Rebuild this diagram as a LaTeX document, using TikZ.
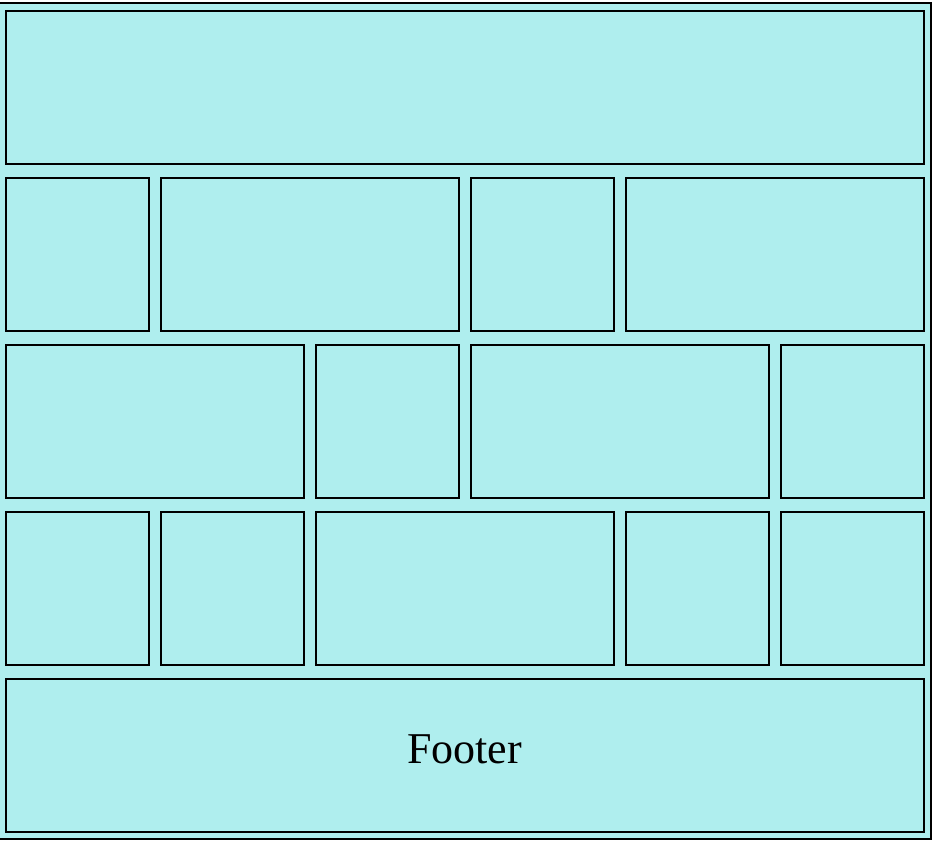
\documentclass[tikz,border=0pt]{standalone}
\usepackage{fontspec}
\setmainfont{Liberation Serif}
\definecolor{paleturq}{RGB}{175,238,238}
\newcommand\cellbox[5]{%
  \node[cell,minimum width={#4-#2},minimum height={#5-#3}] (#1) at ({(#2+#4)/2},{(#3+#5)/2}) {};}
\begin{document}
\begin{tikzpicture}[x=1pt,y=-1pt,
  cell/.style={draw=black,line width=2pt,fill=paleturq,inner sep=0pt,outer sep=0pt},
  outerbox/.style={draw=black,line width=2pt,fill=paleturq},
  lbl/.style={font=\fontsize{44}{50}\selectfont,inner sep=0pt,anchor=base}]
\useasboundingbox (0,0) rectangle (938,849);
\fill[white] (0,0) rectangle (938,849);
\draw[outerbox] (-1,3) rectangle (931,839);
% header
\cellbox{hdr}{6}{11}{923.5}{164}
% row 1
\cellbox{ra}{6}{178}{148.5}{331}
\cellbox{rb}{161}{178}{458.5}{331}
\cellbox{rc}{471}{178}{613.5}{331}
\cellbox{rd}{626}{178}{923.5}{331}
% row 2
\cellbox{sa}{6}{345}{303.5}{498}
\cellbox{sb}{316}{345}{458.5}{498}
\cellbox{sc}{471}{345}{768.5}{498}
\cellbox{sd}{781}{345}{923.5}{498}
% row 3
\cellbox{ta}{6}{511.5}{148.5}{664.5}
\cellbox{tb}{161}{511.5}{303.5}{664.5}
\cellbox{tc}{316}{511.5}{613.5}{664.5}
\cellbox{td}{626}{511.5}{768.5}{664.5}
\cellbox{te}{781}{511.5}{923.5}{664.5}
% footer
\cellbox{ftr}{6}{678.5}{923.5}{832}
\node[lbl] (ftrtext) at (464.5,763.5) {Footer};
\end{tikzpicture}
\end{document}
